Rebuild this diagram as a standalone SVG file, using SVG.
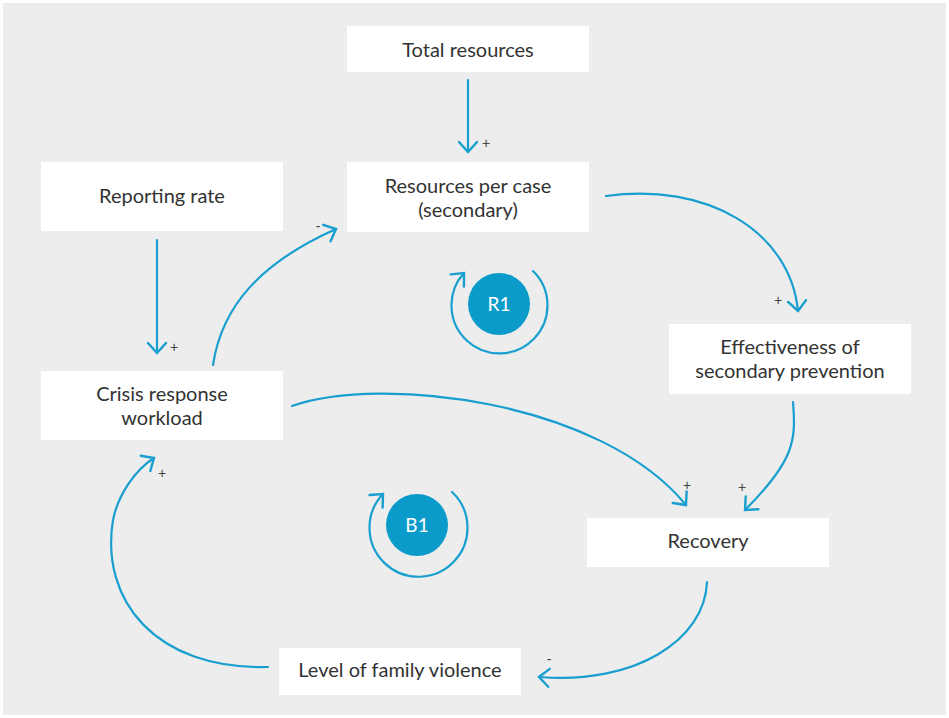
<svg xmlns="http://www.w3.org/2000/svg" width="949" height="718" viewBox="0 0 949 718">
<defs>
<style>
.bg{fill:#ededed}
.box{fill:#ffffff}
.t{font-family:Lato,"Open Sans",sans-serif;font-size:20px;fill:#333333;text-anchor:middle}
.s{font-family:"Liberation Sans",sans-serif;font-size:14px;fill:#444444;text-anchor:middle}
.c{fill:none;stroke:#189fcf;stroke-width:2.2;stroke-linecap:round}
.loopc{fill:#0a9bca}
.lt{font-family:Lato,"Open Sans",sans-serif;font-size:19px;fill:#ffffff;text-anchor:middle}
</style>
<marker id="ah" markerUnits="userSpaceOnUse" markerWidth="24" markerHeight="24" refX="12" refY="12" orient="auto">
<path d="M2,3 L12,12 L2,21" fill="none" stroke="#189fcf" stroke-width="2.4" stroke-linecap="round" stroke-linejoin="miter"/>
</marker>
</defs>
<rect class="bg" x="3" y="3" width="943" height="712"/>

<g id="connectors">
<path class="c" d="M468,80 L468,152" marker-end="url(#ah)"/>
<path class="c" d="M157,240 L157,353" marker-end="url(#ah)"/>
<path class="c" d="M213,365 C222,305 262,262 336,229" marker-end="url(#ah)"/>
<path class="c" d="M606,196 C705,182 790,230 798,311" marker-end="url(#ah)"/>
<path class="c" d="M292,406 C380,375 600,400 686,505" marker-end="url(#ah)"/>
<path class="c" d="M793,402 C796,440 795,460 745,510" marker-end="url(#ah)"/>
<path class="c" d="M707,582 C705,640 635,685 539,677" marker-end="url(#ah)"/>
<path class="c" d="M268,667 C155,670 100,600 113,520 C118,495 135,470 154,458" marker-end="url(#ah)"/>
<text class="s" x="486" y="148">+</text>
<text class="s" x="174" y="352">+</text>
<text class="s" x="318" y="231">-</text>
<text class="s" x="778" y="305">+</text>
<text class="s" x="687" y="490">+</text>
<text class="s" x="742" y="492">+</text>
<text class="s" x="549" y="664">-</text>
<text class="s" x="162" y="478">+</text>
</g>

<g id="total-resources">
<rect class="box" x="347" y="26" width="242" height="46"/>
<text class="t" x="468" y="57">Total resources</text>
</g>
<g id="resources-per-case">
<rect class="box" x="347" y="162" width="242" height="70"/>
<text class="t" x="468" y="193">Resources per case</text>
<text class="t" x="468" y="217">(secondary)</text>
</g>
<g id="reporting-rate">
<rect class="box" x="41" y="162" width="242" height="69"/>
<text class="t" x="162" y="203">Reporting rate</text>
</g>
<g id="effectiveness">
<rect class="box" x="669" y="324" width="242" height="70"/>
<text class="t" x="790" y="354">Effectiveness of</text>
<text class="t" x="790" y="378">secondary prevention</text>
</g>
<g id="crisis-response">
<rect class="box" x="41" y="371" width="242" height="69"/>
<text class="t" x="162" y="401">Crisis response</text>
<text class="t" x="162" y="425">workload</text>
</g>
<g id="recovery">
<rect class="box" x="587" y="518" width="242" height="49"/>
<text class="t" x="708" y="548">Recovery</text>
</g>
<g id="family-violence">
<rect class="box" x="279" y="648" width="242" height="47"/>
<text class="t" x="400" y="677">Level of family violence</text>
</g>

<g id="loop-R1">
<circle class="loopc" cx="499" cy="304" r="31"/>
<path class="c" d="M533,271 A48,48 0 1 1 464,273" marker-end="url(#ah)"/>
<text class="lt" x="499" y="311">R1</text>
</g>
<g id="loop-B1">
<circle class="loopc" cx="417" cy="525" r="31"/>
<path class="c" d="M452,492 A49,49 0 1 1 383,494" marker-end="url(#ah)"/>
<text class="lt" x="417" y="532">B1</text>
</g>
</svg>
